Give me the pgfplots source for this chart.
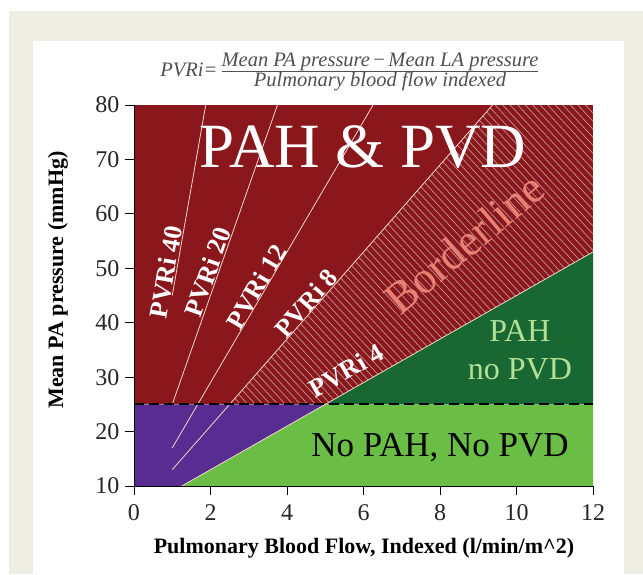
\documentclass[border=0pt]{standalone}
\usepackage{fontspec}
\setmainfont{Liberation Serif}
\usepackage{pgfplots}
\pgfplotsset{compat=1.18}
\usetikzlibrary{patterns.meta}
\definecolor{bggray}{RGB}{238,238,228}
\definecolor{pahred}{RGB}{138,23,27}
\definecolor{hatchc}{RGB}{190,150,150}
\definecolor{pvdpurple}{RGB}{87,45,145}
\definecolor{lgreen}{RGB}{106,189,69}
\definecolor{dgreen}{RGB}{25,104,52}
\definecolor{linec}{RGB}{242,214,204}
\definecolor{bordertxt}{RGB}{232,128,118}
\definecolor{pahtxt}{RGB}{178,224,150}
\definecolor{titlec}{RGB}{80,80,80}
\begin{document}
\begin{tikzpicture}
\fill[white] (0,0) rectangle (643pt,574pt);
\fill[bggray] (9pt,0) rectangle (643pt,563pt);
\fill[white] (33pt,0) rectangle (624pt,533pt);
% title formula
\node[anchor=base east, text=titlec, font=\fontsize{20.5}{20.5}\selectfont\itshape] at (221pt,497pt) {PVRi=};
\node[anchor=base, text=titlec, font=\fontsize{20.5}{20.5}\selectfont\itshape] at (380pt,507pt) {Mean PA pressure\,\upshape−\,\itshape Mean LA pressure};
\node[anchor=base, text=titlec, font=\fontsize{20.5}{20.5}\selectfont\itshape] at (380pt,487pt) {Pulmonary blood flow indexed};
\draw[titlec, line width=0.8pt] (222pt,503pt) -- (538pt,503pt);
\begin{axis}[at={(134pt,88pt)}, anchor=south west, scale only axis,
  width=459pt, height=381pt,
  xmin=0, xmax=12, ymin=10, ymax=80,
  axis x line*=bottom, axis y line*=left,
  xtick={0,2,...,12}, ytick={10,20,...,80},
  tick align=outside, major tick length=9pt,
  tick style={black, line width=1pt},
  axis line style={black, line width=1pt},
  axis on top,
  ticklabel style={font=\fontsize{24}{24}\selectfont, text=black!85},
  /pgf/number format/assume math mode=true,
  xticklabel style={yshift=-6pt},
  yticklabel style={xshift=-2pt},
]
% regions
\addplot[draw=none, fill=pahred] coordinates {(0,25) (12,25) (12,80) (0,80)} -- cycle;
\addplot[draw=none, pattern={Lines[angle=-47,distance=5.5pt,line width=0.7pt]}, pattern color=hatchc] coordinates {(2.5,25) (9.375,80) (12,80) (12,53) (5,25)} -- cycle;
\addplot[draw=none, fill=dgreen] coordinates {(5,25) (12,53) (12,25)} -- cycle;
\addplot[draw=none, fill=pvdpurple] coordinates {(0,10) (1.25,10) (5,25) (0,25)} -- cycle;
\addplot[draw=none, fill=lgreen] coordinates {(1.25,10) (12,10) (12,25) (5,25)} -- cycle;
% PVRi lines
\addplot[linec, line width=0.8pt] coordinates {(1,45) (1.875,80)};
\addplot[linec, line width=0.8pt] coordinates {(1,25) (3.75,80)};
\addplot[linec, line width=0.8pt] coordinates {(1,17) (6.25,80)};
\addplot[linec, line width=0.8pt] coordinates {(1,13) (9.375,80)};
\addplot[linec, line width=0.8pt] coordinates {(1.25,10) (12,53)};
% threshold
\addplot[black, line width=2pt, dash pattern=on 10pt off 5pt] coordinates {(0,25) (12,25)};
% texts
\node[text=white, font=\fontsize{63}{63}\selectfont] at (axis cs:5.99,72.3) {PAH \& PVD};
\node[anchor=base, text=black, font=\fontsize{35}{35}\selectfont] at (axis cs:8,15.4) {No PAH, No PVD};
\node[anchor=base, text=pahtxt, font=\fontsize{32}{32}\selectfont] at (axis cs:10.09,36.5) {PAH};
\node[anchor=base, text=pahtxt, font=\fontsize{32}{32}\selectfont] at (axis cs:10.09,29.5) {no PVD};
\node[text=bordertxt, rotate=40, font=\fontsize{45}{45}\selectfont] at (axis cs:8.63,54.6) {Borderline};
\node[text=white, rotate=80, font=\fontsize{26}{26}\selectfont\bfseries] at (axis cs:0.83,49.3) {PVRi 40};
\node[text=white, rotate=70.6, font=\fontsize{26}{26}\selectfont\bfseries] at (axis cs:1.93,49.3) {PVRi 20};
\node[text=white, rotate=59.6, font=\fontsize{26}{26}\selectfont\bfseries] at (axis cs:3.2,46.6) {PVRi 12};
\node[text=white, rotate=48.7, font=\fontsize{26}{26}\selectfont\bfseries] at (axis cs:4.5,43.6) {PVRi 8};
\node[text=white, rotate=29.6, font=\fontsize{26}{26}\selectfont\bfseries] at (axis cs:5.55,31.2) {PVRi 4};
\end{axis}
\node[font=\fontsize{22}{22}\selectfont\bfseries] at (364pt,26pt) {Pulmonary Blood Flow, Indexed (l/min/m\^{}2)};
\node[rotate=90, font=\fontsize{22}{22}\selectfont\bfseries] at (58pt,294pt) {Mean PA pressure (mmHg)};
\end{tikzpicture}
\end{document}
